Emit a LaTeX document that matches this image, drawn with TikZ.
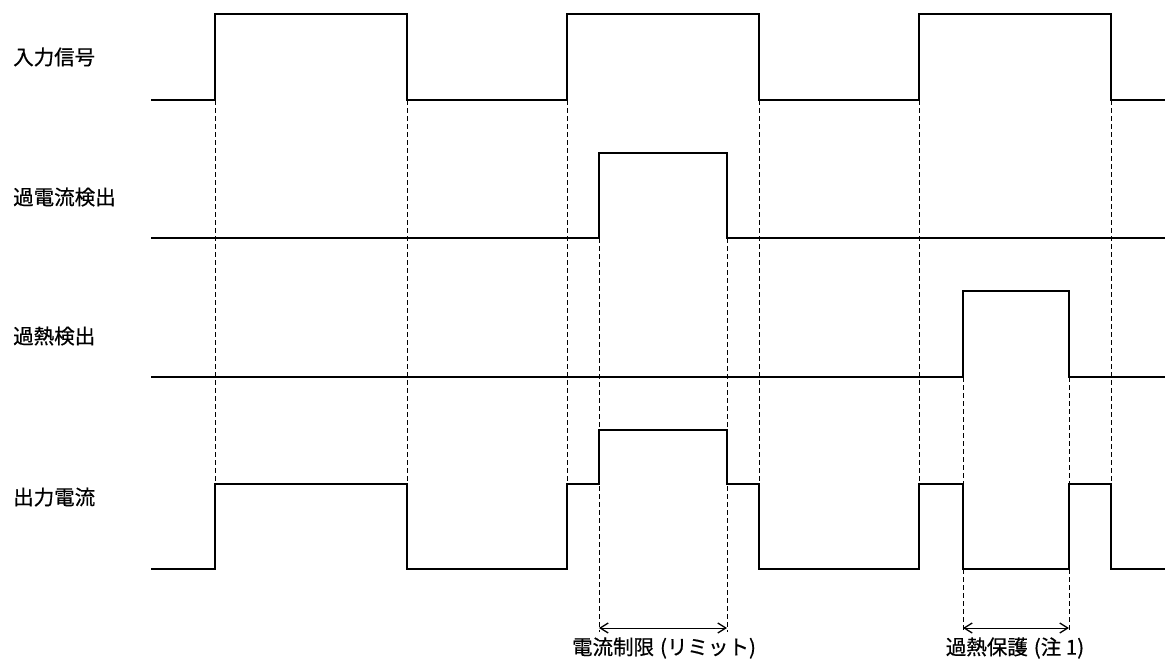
\documentclass[tikz,border=0pt]{standalone}
\usepackage{fontspec}
\usetikzlibrary{arrows.meta}
\newfontfamily\cjk{Noto Sans CJK JP}[FakeBold=0.6]
\begin{document}
\begin{tikzpicture}[x=1pt,y=-1pt,line join=miter,font=\cjk\fontsize{20.5}{24}\selectfont]
			\tikzset{sig/.style={line width=1.8pt},
				guide/.style={line width=0.6pt,dash pattern=on 5pt off 3pt},
				barb/.tip={Straight Barb[length=8pt,width=10pt,line width=1.3pt]},
				span/.style={line width=1pt,barb-barb}}
			\useasboundingbox (0,0) rectangle (1166,662);
			% signal labels
			\foreach \y/\l/\n in {57/入力信号/lin,197/過電流検出/loc,336/過熱検出/lot,497/出力電流/lout}{\node[anchor=west,inner sep=0pt] (\n) at (13,\y) {\l};}
			% waveforms
			\draw[sig] (151,100) -| (215,14) -| (407,100) -| (567,14) -| (759,100) -| (919,14) -| (1111,100) -- (1165,100);
			\draw[sig] (151,238) -| (599,153) -| (727,238) -- (1165,238);
			\draw[sig] (151,377) -| (963,291) -| (1069,377) -- (1165,377);
			\draw[sig] (151,569) -| (215,484) -| (407,569) -| (567,484) -| (599,430) -| (727,484) -| (759,569) -| (919,484) -| (963,569) -| (1069,484) -| (1111,569) -- (1165,569);
			% timing guides
			\foreach \x/\a/\b in {215/100/484,407/100/484,567/100/484,759/100/484,919/100/484,1111/100/484,599/238/632,727/238/632,963/377/632,1069/377/632}{\draw[guide] (\x,\a) -- (\x,\b);}
			% spans
			\coordinate (lim1) at (599,628);
			\coordinate (lim2) at (727,628);
			\coordinate (ot1) at (963,628);
			\coordinate (ot2) at (1069,628);
			\draw[span] (lim1) -- (lim2);
			\draw[span] (ot1) -- (ot2);
			\node[inner sep=0pt] (limtxt) at (664,648) {電流制限\hspace{6pt}(リミット)};
			\node[inner sep=0pt] (ottxt) at (1015,648) {過熱保護\hspace{6pt}(注 1)};
	\end{tikzpicture}
\end{document}
